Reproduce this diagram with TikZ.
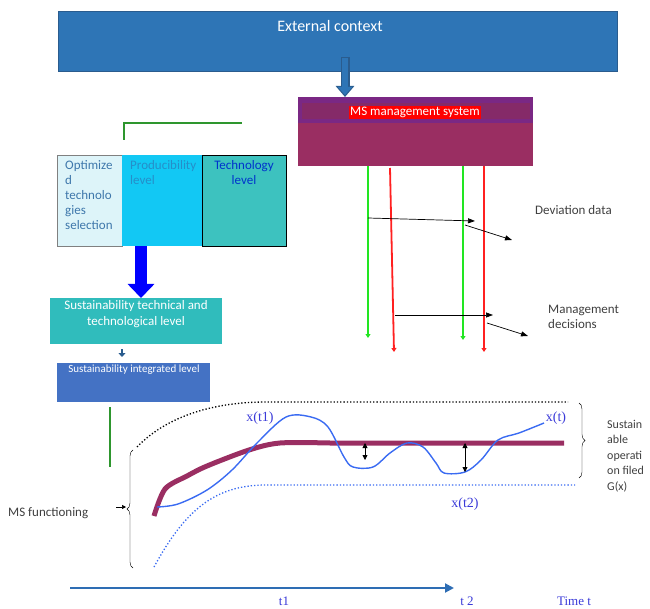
\documentclass[tikz,border=0pt]{standalone}
\usepackage{fontspec}
\setmainfont{Carlito}
\newfontfamily\serlab{Liberation Serif}
\usetikzlibrary{arrows.meta,decorations.pathreplacing,positioning}
\definecolor{extblue}{HTML}{2E75B6}
\definecolor{extedge}{HTML}{2A5C8E}
\definecolor{msmaroon}{HTML}{9A2E62}
\definecolor{mspurple}{HTML}{7A2884}
\definecolor{msband}{HTML}{852A68}
\definecolor{linegreen}{HTML}{22E622}
\definecolor{linered}{HTML}{FF2020}
\definecolor{cellpale}{HTML}{DDF4F9}
\definecolor{cellcyan}{HTML}{12C8F4}
\definecolor{cellteal}{HTML}{3DC2BF}
\definecolor{susteal}{HTML}{30BCBC}
\definecolor{intblue}{HTML}{4472C4}
\definecolor{bargreen}{HTML}{2E962E}
\definecolor{curveblue}{HTML}{3A6BF2}
\definecolor{labblue}{HTML}{3A3AD8}
\definecolor{axisblue}{HTML}{2E6DB4}
\definecolor{txtgray}{HTML}{3F3F3F}
\begin{document}
\begin{tikzpicture}[x=1pt,y=-1pt,
	rect/.style 2 args={inner sep=0pt,minimum width=#1pt,minimum height=#2pt,anchor=north west},
	lab/.style={text=txtgray,inner sep=0pt,font=\fontsize{13}{15}\selectfont},
	serif/.style={text=labblue,inner sep=0pt,font=\serlab\fontsize{#1}{#1}\selectfont},
	greenline/.style={linegreen,line width=1.6pt,-{Triangle[width=5pt,length=4pt]}},
	redline/.style={linered,line width=1.8pt,-{Triangle[width=5pt,length=4pt]}},
	thinarr/.style={black,line width=0.7pt,-{Triangle[width=5pt,length=7pt]}},
	greenbar/.style={bargreen,line width=1.5pt}]
	\useasboundingbox (0,0) rectangle (650,609);
	\node[rect={559}{60},fill=extblue,draw=extedge] (ext) at (58,11) {};
	\node[text=white,inner sep=0pt,font=\fontsize{16}{16}\selectfont] (extlab) at (330,26) {External context};
	\node[rect={235}{69},fill=msmaroon] (ms) at (298,97) {};
	\fill[mspurple] (ms.north west) rectangle ([yshift=-26pt]ms.north east);
	\fill[msband] ([xshift=4pt,yshift=-6pt]ms.north west) rectangle ([xshift=-3pt,yshift=-22pt]ms.north east);
	\node[fill=red,text=white,inner sep=1pt,font=\fontsize{13}{13}\selectfont] (mslab) at (415,112.5) {MS management system};
	\draw[extedge,line width=9pt,-{Triangle[width=18pt,length=11pt]}] ([xshift=47pt,yshift=14pt]ext.south -| ms.north west) -- ([xshift=47pt]ms.north west);
	\draw[extblue,line width=6pt,-{Triangle[width=14pt,length=8pt]}] ([xshift=47pt,yshift=13pt]ext.south -| ms.north west) -- ([xshift=47pt,yshift=2pt]ms.north west);
	\coordinate (g1) at (368,338);
	\coordinate (r1a) at (390,168);
	\coordinate (r1b) at (394,352);
	\coordinate (g2) at (463,340);
	\coordinate (r2) at (484,352);
	\draw[greenline] (ms.south -| g1) -- (g1);
	\draw[redline] (r1a) -- (r1b);
	\draw[greenline] (ms.south -| g2) -- (g2);
	\draw[redline] (ms.south -| r2) -- (r2);
	\node[lab,anchor=west] (dev) at (535,210) {Deviation data};
	\node[lab,anchor=north west,align=left] (dec) at (548,305) {Management\\decisions};
	\coordinate (d1) at (368,218);
	\coordinate (d2) at (475,221);
	\coordinate (d3) at (465,225);
	\coordinate (d4) at (512,240);
	\draw[thinarr] (d1) -- (d2);
	\draw[thinarr] (d3) -- (d4);
	\coordinate (m1) at (395,315);
	\coordinate (m2) at (493,315);
	\coordinate (m3) at (487,323);
	\coordinate (m4) at (528,336);
	\draw[thinarr] (m1) -- (m2);
	\draw[thinarr] (m3) -- (m4);
	\draw[greenbar] (124,140) -- (124,123) -- (242,123);
	\node[rect={65}{91},fill=cellpale,draw=gray] (opt) at (57,155) {};
	\node[rect={80}{91},fill=cellcyan] (prod) at (122,155) {};
	\node[rect={84}{91},fill=cellteal,draw=black] (tech) at (202,155) {};
	\node[anchor=north west,inner sep=0pt,align=left,text=extblue!80!gray,font=\fontsize{13}{15}\selectfont] (optlab) at (65,160) {Optimize\\d\\technolo\\gies\\selection};
	\node[anchor=north west,inner sep=0pt,align=left,text=extblue!70!cellcyan,font=\fontsize{13}{15}\selectfont] (prodlab) at (130,160) {Producibility\\level};
	\node[anchor=north,inner sep=0pt,align=center,text=blue!75!cyan!80!black,font=\fontsize{13}{15}\selectfont] (techlab) at (244,160) {Technology\\level};
	\node[rect={172}{46},fill=susteal] (sust) at (50,298) {};
	\node[anchor=north,inner sep=0pt,align=center,text=white,font=\fontsize{13}{16}\selectfont] (sustlab) at (136,300) {Sustainability technical and\\technological level};
	\draw[blue,line width=12pt,-{Triangle[width=26pt,length=14pt]}] (prod.south -| 141,0) -- (sust.north -| 141,0);
	\node[rect={153}{39},fill=intblue] (integ) at (57,363) {};
	\node[anchor=north,inner sep=0pt,text=white,font=\fontsize{11}{11}\selectfont] (integlab) at (134,365) {Sustainability integrated level};
	\draw[extedge,line width=2.5pt,-{Triangle[width=7pt,length=4pt]}] (sust.south -| 122,0) ++(0,5) -- ([yshift=6pt]integ.north -| 122,0);
	\draw[greenbar] (110,407) -- (110,467);
	\draw[black,dotted,line width=1.3pt] (137,447) .. controls (165,418) and (210,402) .. (266,402) -- (568,402);
	\draw[curveblue,dotted,line width=1.3pt] (154,567) .. controls (185,510) and (215,485) .. (266,485) -- (575,485);
	\draw[msmaroon,line width=5pt] plot[smooth,tension=0.5] coordinates {(154,516) (165,489) (187,476) (207,466) (249,450) (280,443) (330,443)} -- (564,443);
	\draw[curveblue,line width=1.4pt] plot[smooth,tension=0.55] coordinates {(157,507) (178,504) (207,490) (232,470) (257,443) (286,417) (311,417) (328,427) (344,457) (353,467) (373,467) (390,453) (407,443) (423,447) (436,463) (444,473) (465,472) (481,460) (498,440) (519,433) (544,423)};
	\draw[black,line width=0.8pt,{Triangle[width=5pt,length=5pt]}-{Triangle[width=5pt,length=5pt]}] (365,443) -- (365,460);
	\draw[black,line width=0.8pt,{Triangle[width=5pt,length=5pt]}-{Triangle[width=5pt,length=5pt]}] (465,443) -- (465,472);
	\node[serif=14] (xt1) at (260,418) {x(t1)};
	\node[serif=14] (xt) at (556,418) {x(t)};
	\node[serif=14] (xt2) at (465,504) {x(t2)};
	\draw[black,decorate,decoration={brace,amplitude=6pt}] (133,568) -- (133,450);
	\draw[black,decorate,decoration={brace,amplitude=6pt}] (579,403) -- (579,478);
	\node[lab,anchor=west] (msf) at (8,513) {MS functioning};
	\coordinate (msfa) at (116,507);
	\coordinate (msfb) at (126,507);
	\draw[black,line width=0.7pt,-{Triangle[width=4pt,length=4pt]}] (msfa) -- (msfb);
	\node[lab,anchor=north west,align=left,font=\fontsize{12}{15.5}\selectfont] (gx) at (607,420) {Sustain\\able\\operati\\on filed\\G(x)};
	\draw[axisblue,line width=2pt,-{Triangle[width=9pt,length=9pt]}] (70,588) -- (454,588);
	\node[serif=13] (t1) at (284,601) {t1};
	\node[serif=13] (t2) at (467,601) {t 2};
	\node[serif=13] (tt) at (574,601) {Time t};
\end{tikzpicture}
\end{document}
